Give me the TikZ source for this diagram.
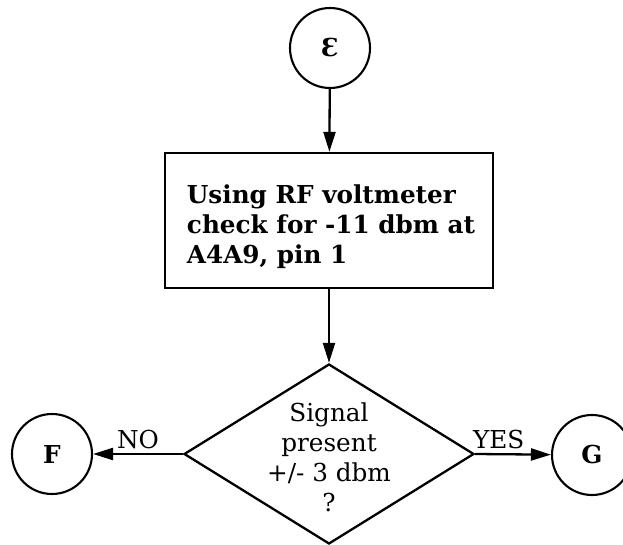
\documentclass[tikz,border=0pt]{standalone}
\usepackage{fontspec}
\setmainfont{DejaVu Serif}
\usetikzlibrary{arrows.meta, shapes.geometric}

\begin{document}
\begin{tikzpicture}[x=1pt, y=-1pt, >={Triangle[length=20pt, width=12pt]}, line width=2.3pt,
  every node/.style={font=\fontsize{24.7}{30}\selectfont},
  conn/.style={circle, draw, line width=2.1pt, minimum size=80pt, inner sep=0pt},
  procbox/.style={rectangle, draw, minimum width=328pt, minimum height=135pt},
  decision/.style={diamond, draw, minimum width=290pt, minimum height=180pt, inner sep=0pt}]
  \useasboundingbox (0,0) rectangle (623,545);
  % connectors and steps
  \node[conn] (E) at (330,48) {\textbf{Ɛ}};
  \node[procbox] (chk) at (329,220.5) {};
  \node[align=left] (chktxt) at (331,227) {\textbf{Using RF voltmeter}\\\textbf{check for -11 dbm at}\\\textbf{A4A9, pin 1}};
  \node[decision] (sig) at (329,454) {};
  \node[align=center] (sigtxt) at (329,457) {Signal\\present\\+/- 3 dbm\\?};
  \node[conn] (F) at (52,454) {\textbf{F}};
  \node[conn] (G) at (592,455) {\textbf{G}};
  % flow
  \draw[->] (E) -- (chk);
  \draw[->] (chk) -- (sig);
  \draw[->] (sig.west) -- node[above=1pt]{NO} (F);
  \draw[->] (sig.east) -- node[above=1pt, pos=0.31]{YES} (G);
\end{tikzpicture}
\end{document}
